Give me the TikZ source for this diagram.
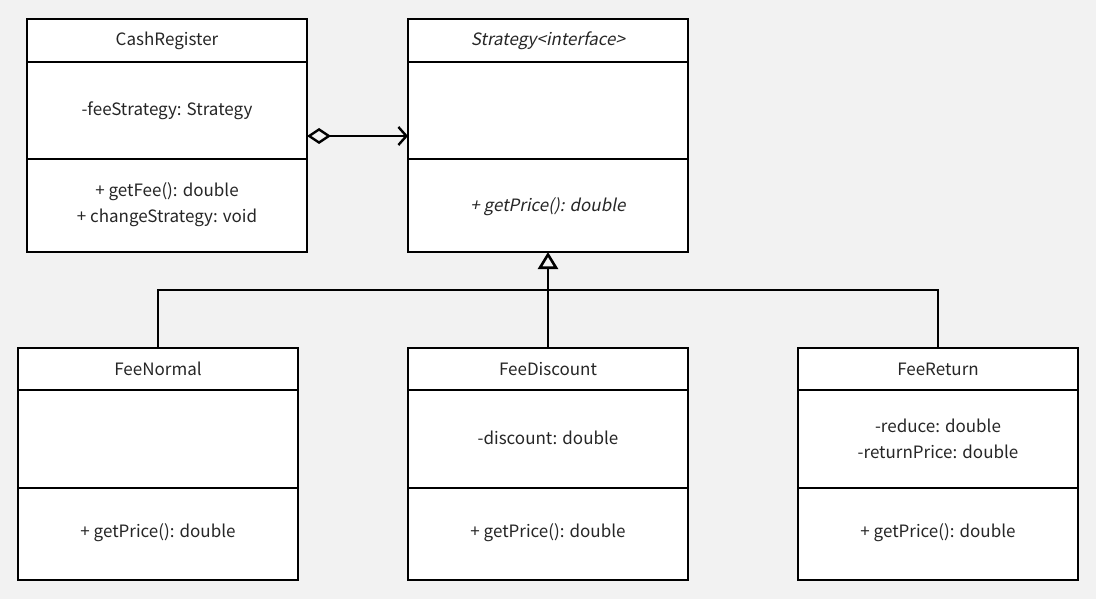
\documentclass[tikz,border=0pt]{standalone}
\usepackage{fontspec}
\setmainfont{Noto Sans CJK SC}[AutoFakeSlant=0.2]
\usetikzlibrary{arrows.meta}
\definecolor{bg}{HTML}{F2F2F2}
\definecolor{txt}{HTML}{262626}
\begin{document}
\begin{tikzpicture}[x=1pt,y=-1pt,
  box/.style={draw=black,fill=white,line width=2.4pt},
  lbl/.style={text=txt,font=\fontsize{17}{26}\selectfont,align=center,inner sep=0pt},
  conn/.style={line width=2.4pt}]
\fill[bg] (0,0) rectangle (1096,599);
\useasboundingbox (0,0) rectangle (1096,599);
% class boxes
\newcommand{\umlclass}[5]{%
  \draw[box] (#1,#2) rectangle (#1+280,#3);
  \draw[line width=2.4pt] (#1,#4) -- (#1+280,#4);
  \draw[line width=2.4pt] (#1,#5) -- (#1+280,#5);
}
\umlclass{27}{19}{252}{62}{159}
\umlclass{408}{19}{252}{62}{159}
\umlclass{18}{348}{580}{390}{488}
\umlclass{408}{348}{580}{390}{488}
\umlclass{798}{348}{580}{390}{488}
% texts
\node[lbl] (crn) at (167,41) {CashRegister};
\node[lbl] (cra) at (167,111) {-feeStrategy: Strategy};
\node[lbl] (crm) at (167,205) {+ getFee(): double\\+ changeStrategy: void};
\node[lbl] (stn) at (548,41) {\itshape Strategy<interface>};
\node[lbl] (stm) at (548,207) {\itshape + getPrice(): double};
\node[lbl] (fnn) at (158,369) {FeeNormal};
\node[lbl] (fnm) at (158,533) {+ getPrice(): double};
\node[lbl] (fdn) at (548,369) {FeeDiscount};
\node[lbl] (fda) at (548,438) {-discount: double};
\node[lbl] (fdm) at (548,533) {+ getPrice(): double};
\node[lbl] (frn) at (938,369) {FeeReturn};
\node[lbl] (fra) at (938,439) {-reduce: double\\-returnPrice: double};
\node[lbl] (frm) at (938,533) {+ getPrice(): double};
% anchors
\coordinate (crR) at (307,136);
\coordinate (stL) at (408,136);
\coordinate (stB) at (548,252);
\coordinate (fdT) at (548,348);
\coordinate (fnT) at (158,348);
\coordinate (frT) at (938,348);
\coordinate (busL) at (158,290);
\coordinate (busR) at (938,290);
% connectors
\draw[conn,{Diamond[open,length=24pt,width=16pt,line width=2.4pt]}-{Straight Barb[length=8pt,width=18pt,line width=2.4pt]}] (crR) -- (stL);
\draw[conn,-{Triangle[open,length=17pt,width=20pt,line width=2.6pt]}] (fdT) -- (stB);
\draw[conn] (fnT) -- (busL) -- (busR) -- (frT);
\end{tikzpicture}
\end{document}
